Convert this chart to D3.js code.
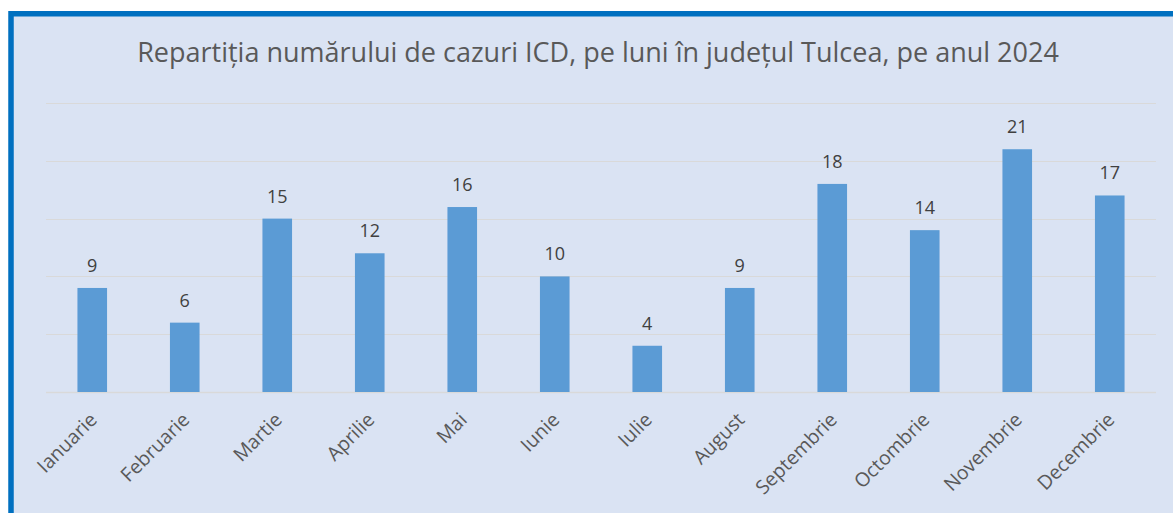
<!DOCTYPE html>
<html>
<head>
<meta charset="utf-8">
<script src="https://cdn.jsdelivr.net/npm/d3@7"></script>
<style>
  html, body { margin: 0; padding: 0; background: #fff; overflow: hidden; }
  svg { display: block; }
</style>
</head>
<body>
<svg id="chart"></svg>
<script>
const months = ['Ianuarie', 'Februarie', 'Martie', 'Aprilie', 'Mai', 'Iunie',
  'Iulie', 'August', 'Septembrie', 'Octombrie', 'Novembrie', 'Decembrie'];
const cases = [9, 6, 15, 12, 16, 10, 4, 9, 18, 14, 21, 17];
const gridTicks = [0, 5, 10, 15, 20, 25];
const title = 'Repartiția numărului de cazuri ICD, pe luni în județul Tulcea, pe anul 2024';

const width = 1173, height = 513;
const font = "'Open Sans', 'Noto Sans', sans-serif";

const svg = d3.select('#chart')
  .attr('width', width)
  .attr('height', height);

// chart frame (only top and left edges are visible in the crop)
svg.append('rect')
  .attr('x', 11)
  .attr('y', 13.75)
  .attr('width', 1300)
  .attr('height', 700)
  .attr('fill', '#dae3f3')
  .attr('stroke', '#0070c0')
  .attr('stroke-width', 5.5);

const x = d3.scaleBand()
  .domain(months)
  .range([46, 1156])
  .paddingInner(0.68)
  .paddingOuter(0.34);

const y = d3.scaleLinear()
  .domain([0, 25])
  .range([392, 103]);

// gridlines
svg.append('g')
  .selectAll('line')
  .data(gridTicks)
  .enter()
  .append('line')
  .attr('x1', x.range()[0])
  .attr('x2', x.range()[1])
  .attr('y1', d => Math.round(y(d)) + 0.5)
  .attr('y2', d => Math.round(y(d)) + 0.5)
  .attr('stroke', '#d9d9d9')
  .attr('stroke-width', d => d === 0 ? 1.6 : 1);

// bars
svg.append('g')
  .selectAll('rect')
  .data(cases)
  .enter()
  .append('rect')
  .attr('x', (d, i) => x(months[i]))
  .attr('y', d => y(d))
  .attr('width', x.bandwidth())
  .attr('height', d => y(0) - y(d))
  .attr('fill', '#5b9bd5');

// value labels
svg.append('g')
  .selectAll('text')
  .data(cases)
  .enter()
  .append('text')
  .attr('x', (d, i) => x(months[i]) + x.bandwidth() / 2)
  .attr('y', d => y(d) - 16)
  .attr('text-anchor', 'middle')
  .attr('font-family', font)
  .attr('font-size', 18)
  .attr('fill', '#404040')
  .text(d => d);

// category labels, rotated
svg.append('g')
  .selectAll('text')
  .data(months)
  .enter()
  .append('text')
  .attr('transform', d => 'translate(' + (x(d) + x.bandwidth() / 2 + 6) + ',421) rotate(-45)')
  .attr('text-anchor', 'end')
  .attr('font-family', font)
  .attr('font-size', 19.5)
  .attr('fill', '#595959')
  .text(d => d);

// title
svg.append('text')
  .attr('x', 598)
  .attr('y', 62)
  .attr('text-anchor', 'middle')
  .attr('font-family', font)
  .attr('font-size', 27)
  .attr('fill', '#595959')
  .text(title);
</script>
</body>
</html>
